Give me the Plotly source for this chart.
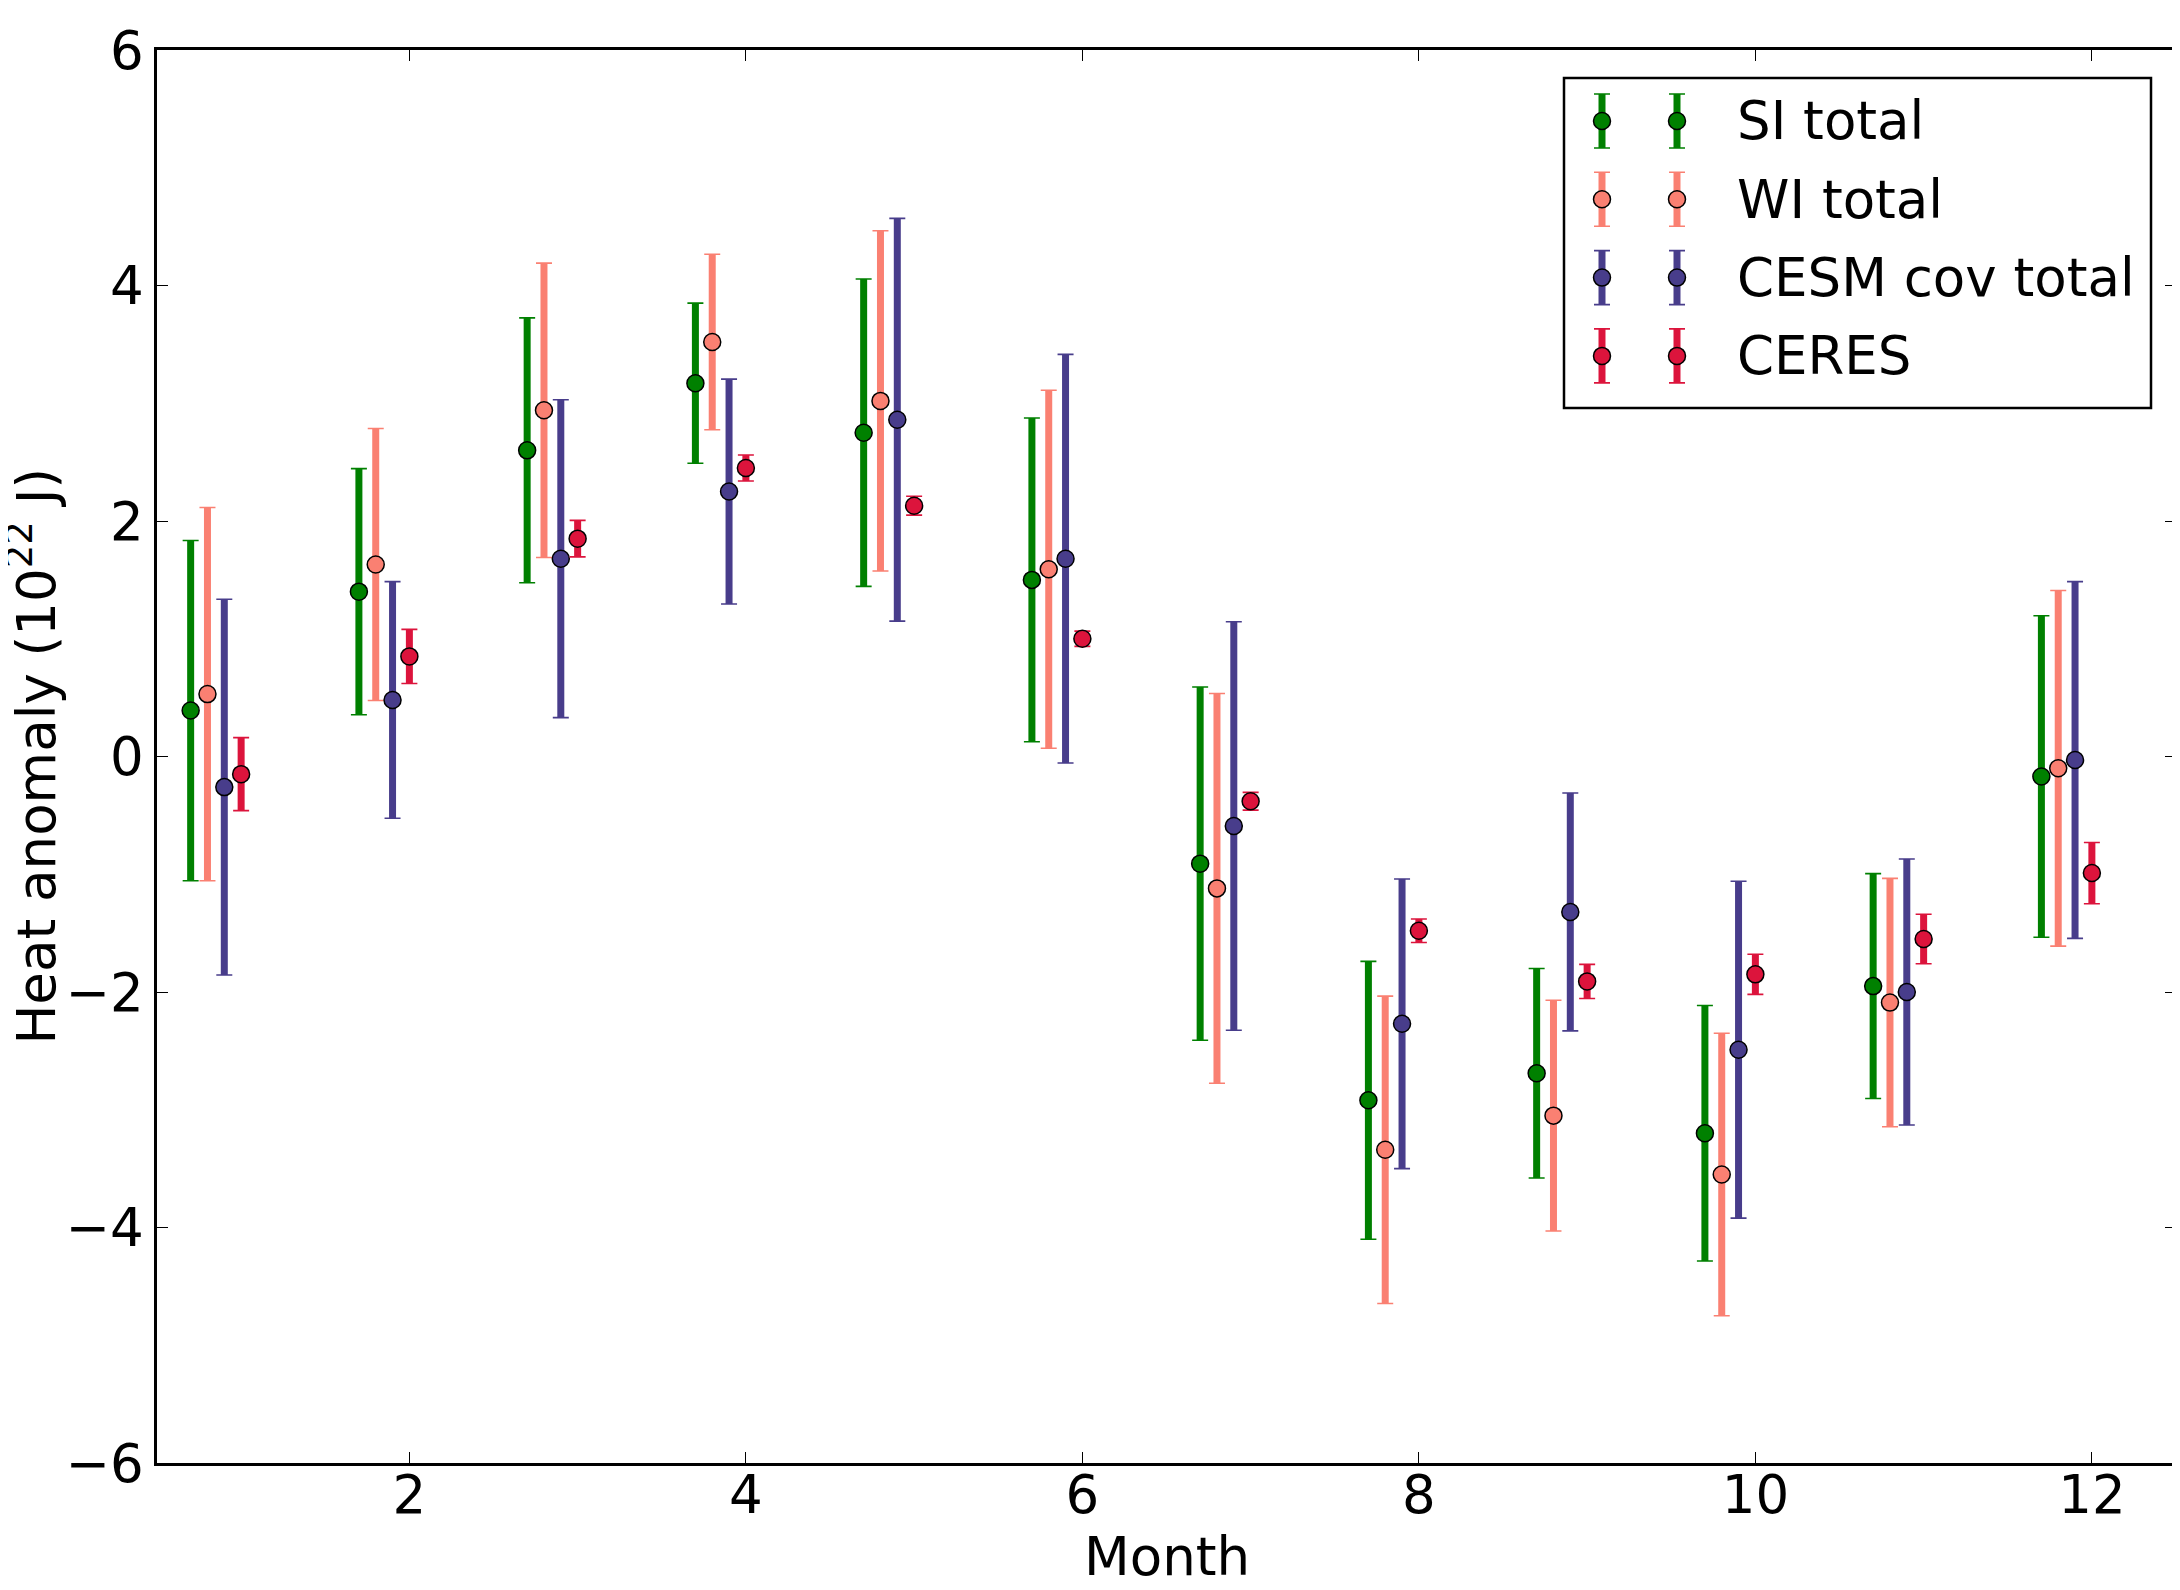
import plotly.graph_objects as go

# ---------------- data ----------------
months = [1, 2, 3, 4, 5, 6, 7, 8, 9, 10, 11, 12]

si_total = [0.39, 1.40, 2.60, 3.17, 2.75, 1.50, -0.91, -2.92, -2.69, -3.20, -1.95, -0.17]
si_err = [1.445, 1.045, 1.125, 0.68, 1.305, 1.375, 1.50, 1.18, 0.89, 1.085, 0.955, 1.365]

wi_total = [0.53, 1.63, 2.94, 3.52, 3.02, 1.59, -1.12, -3.34, -3.05, -3.55, -2.09, -0.10]
wi_err = [1.585, 1.155, 1.25, 0.745, 1.445, 1.52, 1.655, 1.305, 0.98, 1.20, 1.055, 1.51]

cesm_total = [-0.26, 0.48, 1.68, 2.25, 2.86, 1.68, -0.59, -2.27, -1.32, -2.49, -2.00, -0.03]
cesm_err = [1.595, 1.005, 1.35, 0.955, 1.71, 1.735, 1.735, 1.23, 1.01, 1.43, 1.13, 1.515]

ceres = [-0.15, 0.85, 1.85, 2.45, 2.13, 1.00, -0.38, -1.48, -1.91, -1.85, -1.55, -0.99]
ceres_err = [0.31, 0.23, 0.155, 0.11, 0.08, 0.065, 0.075, 0.10, 0.145, 0.17, 0.21, 0.26]

series_names = ["SI total", "WI total", "CESM cov total", "CERES"]
series_vals = [si_total, wi_total, cesm_total, ceres]
series_errs = [si_err, wi_err, cesm_err, ceres_err]
series_offsets = [-0.3, -0.2, -0.1, 0.0]
series_colors = ["#008000", "#FA8072", "#483D8B", "#DC143C"]

x_ticks = [2, 4, 6, 8, 10, 12]
y_ticks = [-6, -4, -2, 0, 2, 4, 6]

x_title = "Month"
y_title = "Heat anomaly (10<sup>22</sup> J)"

# ---------------- style ----------------
FONT = "DejaVu Sans"
FS = 53
PAGE_OFF = 8  # default body margin of the html page
W, H = 2180 - PAGE_OFF, 1590 - PAGE_OFF
ML, MR, MT, MB = 149, 4, 42, 127
BAR_THICK = 7
CAP_THICK = 1.6
CAP_HALF = 8
MARKER_SIZE = 17

fig = go.Figure()


def add_errorbar(fig, x, y, err, color, xaxis="x", yaxis="y"):
    # thick bar without caps
    fig.add_trace(go.Scatter(
        x=x, y=y, mode="markers", xaxis=xaxis, yaxis=yaxis,
        marker=dict(size=1, opacity=0, color=color),
        error_y=dict(type="data", array=err, visible=True, color=color,
                     thickness=BAR_THICK, width=0),
        showlegend=False, hoverinfo="skip"))
    # thin caps + markers
    fig.add_trace(go.Scatter(
        x=x, y=y, mode="markers", xaxis=xaxis, yaxis=yaxis,
        marker=dict(size=MARKER_SIZE, color=color,
                    line=dict(color="black", width=1.5)),
        error_y=dict(type="data", array=err, visible=True, color=color,
                     thickness=CAP_THICK, width=CAP_HALF),
        showlegend=False))


for vals, errs, off, col in zip(series_vals, series_errs, series_offsets, series_colors):
    xs = [m + off for m in months]
    add_errorbar(fig, xs, vals, errs, col)

# ---------------- custom legend (inset axis in pixel units) ----------------
LEG_L, LEG_R, LEG_T, LEG_B = 1556, 2143, 70, 400  # figure pixels
plot_w = W - ML - MR
plot_h = H - MT - MB
leg_w = LEG_R - LEG_L
leg_h = LEG_B - LEG_T
dom_x = [(LEG_L - ML) / plot_w, (LEG_R - ML) / plot_w]
dom_y = [(H - MB - LEG_B) / plot_h, (H - MB - LEG_T) / plot_h]

leg_sample_x = [38, 113]
leg_row_step = 78.3
leg_first_row = 287
leg_text_x = 171
leg_half_bar = 27

for i, (name, col) in enumerate(zip(series_names, series_colors)):
    ry = leg_first_row - i * leg_row_step
    add_errorbar(fig, leg_sample_x, [ry, ry], [leg_half_bar, leg_half_bar], col,
                 xaxis="x2", yaxis="y2")
    fig.add_annotation(x=leg_text_x, y=ry, xref="x2", yref="y2", text=name,
                       showarrow=False, xanchor="left", yanchor="middle",
                       font=dict(family=FONT, size=FS, color="black"))

fig.add_shape(type="rect", xref="paper", yref="paper",
              x0=dom_x[0], x1=dom_x[1], y0=dom_y[0], y1=dom_y[1],
              line=dict(color="black", width=2.5), fillcolor="rgba(0,0,0,0)",
              layer="above")

# axis titles as annotations (paper coords derived from pixel layout)
fig.add_annotation(text=x_title, xref="paper", yref="paper",
                   x=0.5, y=-(1548 - (H - MB)) / plot_h,
                   showarrow=False, xanchor="center", yanchor="middle",
                   font=dict(family=FONT, size=FS, color="black"))
fig.add_annotation(text=y_title, xref="paper", yref="paper",
                   x=-(ML - 24) / plot_w, y=0.5, textangle=-90,
                   showarrow=False, xanchor="center", yanchor="middle",
                   font=dict(family=FONT, size=FS, color="black"))

axis_common = dict(showgrid=False, zeroline=False, showline=True,
                   linecolor="black", linewidth=2.5, mirror="ticks",
                   ticks="inside", ticklen=11, tickwidth=1.2, tickcolor="black",
                   automargin=False,
                   tickfont=dict(family=FONT, size=FS, color="black"))

fig.update_layout(
    width=W, height=H,
    margin=dict(l=ML, r=MR, t=MT, b=MB, autoexpand=False),
    paper_bgcolor="white", plot_bgcolor="white",
    font=dict(family=FONT, size=FS, color="black"),
    showlegend=False,
    xaxis=dict(range=[0.5, 12.5], tickvals=x_ticks, ticktext=[str(t) for t in x_ticks],
               ticklabelstandoff=-16, **axis_common),
    yaxis=dict(range=[-6, 6], tickvals=y_ticks,
               ticktext=[("\u2212" + str(-t)) if t < 0 else str(t) for t in y_ticks],
               **axis_common),
    xaxis2=dict(domain=dom_x, range=[0, leg_w], visible=False, anchor="y2",
                fixedrange=True),
    yaxis2=dict(domain=dom_y, range=[0, leg_h], visible=False, anchor="x2",
                fixedrange=True),
)

fig.write_html("out.html")
